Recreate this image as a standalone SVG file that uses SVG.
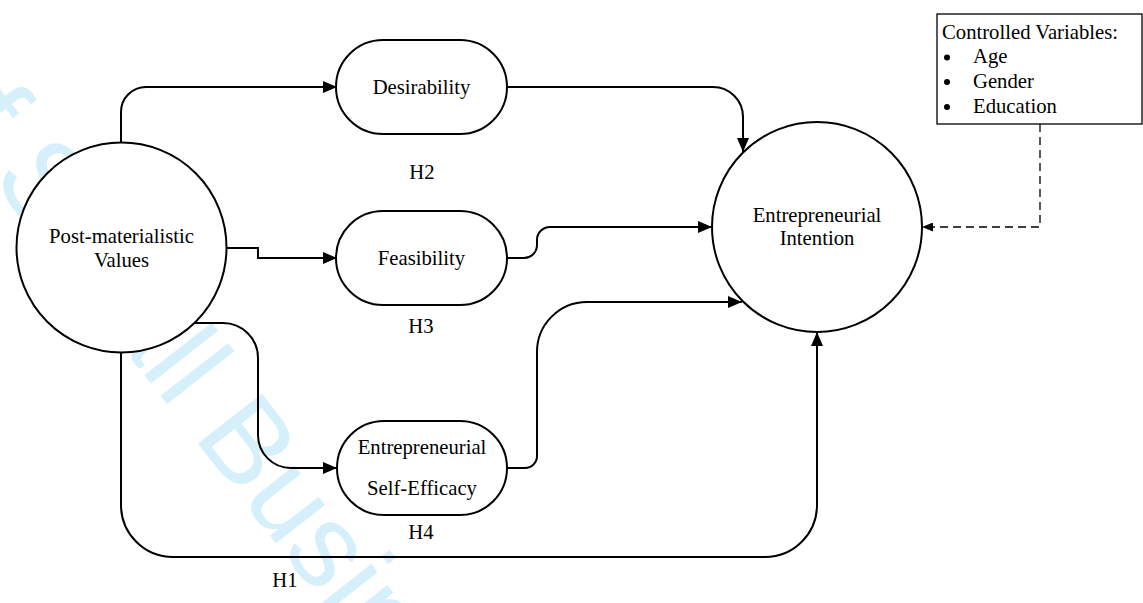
<svg xmlns="http://www.w3.org/2000/svg" width="1143" height="603" viewBox="0 0 1143 603">
<style>
.t{font-family:"Liberation Serif","Times New Roman",serif;font-size:20.7px;fill:#000}
.c{text-anchor:middle}
.n{fill:#fff;stroke:#000;stroke-width:2}
.e{fill:none;stroke:#000;stroke-width:2}
.d{fill:none;stroke:#000;stroke-width:1.3;stroke-dasharray:8 5}
.wm{font-family:"Liberation Sans",Arial,sans-serif;font-size:118px;fill:#d6f0fb}
</style>
<defs>
<marker id="a" markerUnits="userSpaceOnUse" markerWidth="14" markerHeight="12" refX="14" refY="6" orient="auto">
<path d="M0,0 L14,6 L0,12 z" fill="#000"/>
</marker>
<marker id="a2" markerUnits="userSpaceOnUse" markerWidth="11" markerHeight="9" refX="11" refY="4.5" orient="auto">
<path d="M0,0 L11,4.5 L0,9 z" fill="#000"/>
</marker>
</defs>
<rect width="1143" height="603" fill="#fff"/>
<text class="wm" transform="translate(192,436) rotate(52)" x="-459">of Small Business</text>
<g id="connectors">
<path class="e" d="M121,142 V112 A25,25 0 0 1 146,87 H337" marker-end="url(#a)"/>
<path class="e" d="M507,87 H713 A30,30 0 0 1 743,117 V152" marker-end="url(#a)"/>
<path class="e" d="M227,248 H258 V258 H337" marker-end="url(#a)"/>
<path class="e" d="M507,258 H524 A13,13 0 0 0 537,245 V240 A13,13 0 0 1 550,227 H712" marker-end="url(#a)"/>
<path class="e" d="M507,468 H525 A12,12 0 0 0 537,456 V352 A50,50 0 0 1 587,302 H742" marker-end="url(#a)"/>
<path class="e" d="M194,323 H223 A35,35 0 0 1 258,358 V435 A33,33 0 0 0 291,468 H337" marker-end="url(#a)"/>
<path class="e" d="M121,353 V505 A52,52 0 0 0 173,557 H765 A52,52 0 0 0 817,505 V332" marker-end="url(#a)"/>
<path class="d" d="M1040,124 V227 H922" marker-end="url(#a2)"/>
</g>
<g id="pmv">
<circle class="n" cx="121.5" cy="247.5" r="105"/>
<text class="t c" x="121.5" y="243">Post-materialistic</text>
<text class="t c" x="121.5" y="267">Values</text>
</g>
<g id="ei">
<circle class="n" cx="817" cy="227" r="105"/>
<text class="t c" x="817" y="222">Entrepreneurial</text>
<text class="t c" x="817" y="245">Intention</text>
</g>
<g id="desirability">
<rect class="n" x="336" y="40" width="171" height="94" rx="47"/>
<text class="t c" x="421.5" y="94">Desirability</text>
</g>
<g id="feasibility">
<rect class="n" x="336" y="211" width="171" height="94" rx="47"/>
<text class="t c" x="421.5" y="265">Feasibility</text>
</g>
<g id="ese">
<rect class="n" x="337" y="421" width="170" height="94" rx="47"/>
<text class="t c" x="422" y="454">Entrepreneurial</text>
<text class="t c" x="422" y="495">Self-Efficacy</text>
</g>
<g id="controls">
<rect x="937" y="14" width="205" height="110" fill="#fff" stroke="#000" stroke-width="1.3"/>
<text class="t" x="942" y="38.5">Controlled Variables:</text>
<circle cx="947" cy="57.5" r="3"/>
<circle cx="947" cy="82" r="3"/>
<circle cx="947" cy="107" r="3"/>
<text class="t" x="973" y="63">Age</text>
<text class="t" x="973" y="88">Gender</text>
<text class="t" x="973" y="112.5">Education</text>
</g>
<g id="labels">
<text class="t c" x="422" y="179">H2</text>
<text class="t c" x="421" y="333">H3</text>
<text class="t c" x="421" y="539">H4</text>
<text class="t c" x="285" y="587">H1</text>
</g>
</svg>
